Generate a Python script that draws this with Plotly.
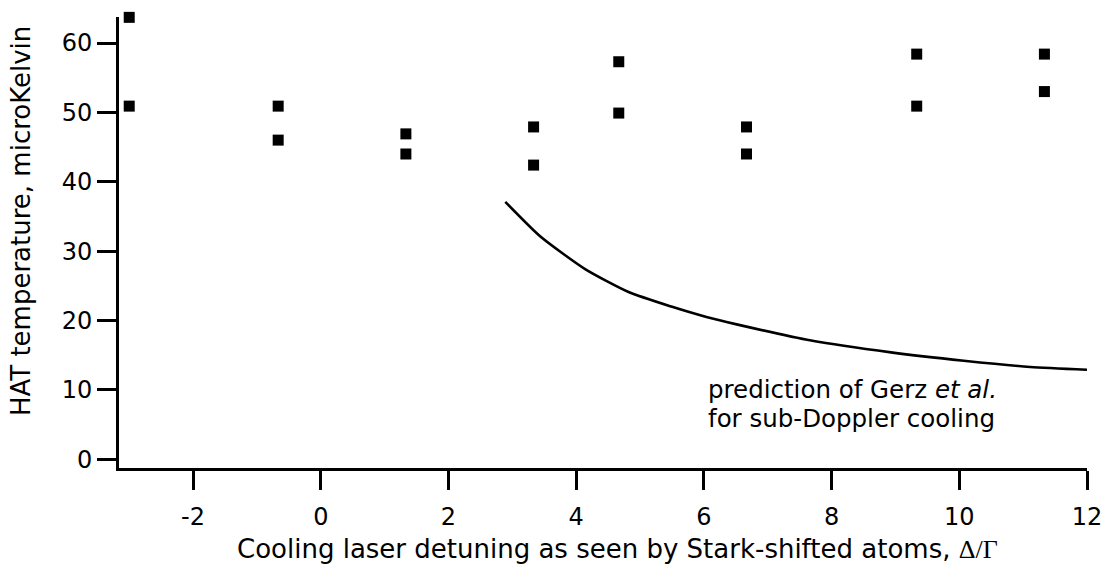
import plotly.graph_objects as go

# Measured HAT temperatures (two runs per detuning)
detuning = [-3.0, -3.0, -0.667, -0.667, 1.333, 1.333, 3.333, 3.333,
            4.667, 4.667, 6.667, 6.667, 9.333, 9.333, 11.333, 11.333]
temperature = [63.7, 50.9, 50.9, 46.0, 46.9, 44.0, 47.9, 42.4,
               57.3, 49.9, 47.9, 44.0, 58.4, 50.9, 58.4, 53.0]

# Sub-Doppler cooling prediction (Gerz et al.)
pred_detuning = [2.89, 3.44, 4.14, 4.82, 5.49, 6.04, 6.53, 7.68, 8.93, 10.07, 11.11, 12.0]
pred_temperature = [37.1, 32.1, 27.4, 24.1, 22.0, 20.5, 19.4, 17.1, 15.4, 14.2, 13.3, 12.9]

x_ticks = [-2, 0, 2, 4, 6, 8, 10, 12]
y_ticks = [0, 10, 20, 30, 40, 50, 60]

FONT = "DejaVu Sans"
TITLE_SIZE = 26
TICK_SIZE = 24
NOTE_SIZE = 24.5

fig = go.Figure()
fig.add_trace(go.Scatter(
    x=pred_detuning, y=pred_temperature, mode="lines",
    line=dict(color="black", width=2.6, shape="spline", smoothing=0.6),
    hoverinfo="skip", cliponaxis=False,
))
fig.add_trace(go.Scatter(
    x=detuning, y=temperature, mode="markers",
    marker=dict(symbol="square", size=11, color="black", line=dict(width=0)),
    cliponaxis=False,
))

# Two-line caption for the prediction curve
note_font = dict(family=FONT, size=NOTE_SIZE, color="black")
fig.add_annotation(x=6.03, y=10.0, xref="x", yref="y",
                   text="prediction of Gerz <i>et al.</i>",
                   showarrow=False, xanchor="left", yanchor="middle",
                   font=note_font)
fig.add_annotation(x=6.03, y=5.85, xref="x", yref="y",
                   text="for sub-Doppler cooling",
                   showarrow=False, xanchor="left", yanchor="middle",
                   font=note_font)

# Axis titles
title_font = dict(family=FONT, size=TITLE_SIZE, color="black")
fig.add_annotation(
    x=0.515, y=-0.18, xref="paper", yref="paper",
    text='Cooling laser detuning as seen by Stark-shifted atoms, '
         '<span style="font-family:Liberation Serif">Δ/Γ</span>',
    showarrow=False, xanchor="center", yanchor="middle", font=title_font,
)
fig.add_annotation(
    x=-0.101, y=0.548, xref="paper", yref="paper",
    text="HAT temperature, microKelvin", textangle=-90,
    showarrow=False, xanchor="center", yanchor="middle", font=title_font,
)

axis_common = dict(
    showline=True, linecolor="black", linewidth=2.6,
    ticks="outside", ticklen=19, tickwidth=2.6, tickcolor="black",
    showgrid=False, zeroline=False,
    tickfont=dict(family=FONT, size=TICK_SIZE, color="black"),
)

fig.update_xaxes(
    range=[-3.16, 12.0], tickvals=x_ticks, ticktext=[str(v) for v in x_ticks],
    ticklabelstandoff=6,
    **axis_common,
)
fig.update_yaxes(
    range=[-1.27, 63.75], tickvals=y_ticks, ticktext=[str(v) for v in y_ticks],
    **axis_common,
)

fig.update_layout(
    width=1114, height=568,
    margin=dict(l=119, r=23, t=17, b=100),
    paper_bgcolor="white", plot_bgcolor="white",
    showlegend=False,
)

fig.write_html("out.html")
